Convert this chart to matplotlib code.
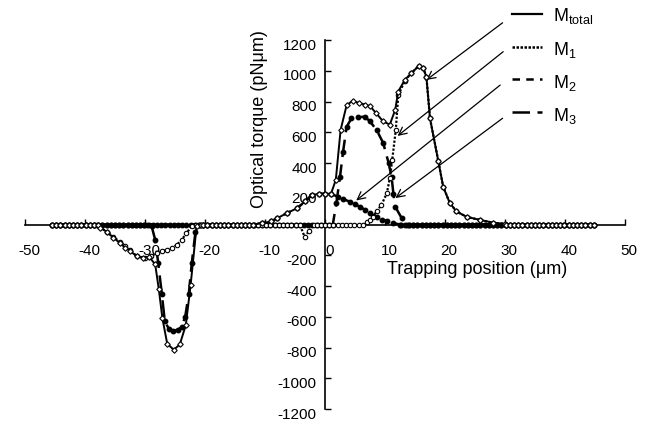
import numpy as np
import matplotlib
matplotlib.use("Agg")
import matplotlib.pyplot as plt
from matplotlib import transforms

plt.rcParams['font.family'] = ['Liberation Sans', 'DejaVu Sans']
plt.rcParams['mathtext.fontset'] = 'custom'
plt.rcParams['mathtext.rm'] = 'Liberation Sans'
plt.rcParams['mathtext.it'] = 'Liberation Sans:italic'
plt.rcParams['axes.unicode_minus'] = False

# ---------------- data ----------------
# sample positions of the flat (zero) parts of every curve
baseline_x = np.round(np.arange(-45.5, 45.0, 0.7), 2)

# M_total : solid, open diamonds
total_left_x = [-37.5, -36.4, -35.3, -34.2, -33.3, -32.5, -31.4, -30.4, -29.3, -28.3, -27.7, -27.1, -26.3, -25.2, -24.2, -23.2, -22.4, -21.4, -20.6]
total_left_y = [-20, -47, -85, -120, -150, -172, -205, -215, -210, -260, -420, -610, -775, -815, -780, -655, -395, -10, 0]
total_right_x = [-12.0, -10.5, -9.0, -8.0, -6.4, -4.7, -3.3, -2.2, -1.0, 0.0, 1.0, 1.8, 2.6, 3.6, 4.6, 5.7, 6.7, 7.5, 8.5, 9.7, 10.8, 11.7, 12.2, 13.3, 14.4, 15.6, 16.4, 16.9, 17.5, 18.9, 19.7, 20.8, 21.9, 23.6, 25.8, 28.0, 30.0]
total_right_y = [0, 8, 20, 40, 73, 105, 150, 190, 200, 200, 200, 290, 615, 775, 805, 790, 780, 770, 725, 670, 650, 745, 865, 940, 985, 1030, 1015, 960, 690, 410, 245, 140, 85, 50, 30, 12, 3]

# M1 : dotted, open circles
m1_left_x = [-38.2, -37.5, -36.4, -35.3, -34.2, -33.3, -32.5, -31.4, -30.0, -29.0, -28.0, -27.2, -26.4, -25.5, -24.7, -23.9, -23.1, -22.2, -21.5]
m1_left_y = [0, -15, -47, -80, -112, -140, -166, -205, -218, -205, -186, -175, -166, -150, -133, -100, -57, -10, 0]
m1_mid_x = [-4.2, -3.4, -2.6, -1.9]
m1_mid_y = [0, -80, -40, 0]
m1_right_x = [6.3, 7.0, 7.5, 8.0, 8.7, 9.4, 10.3, 10.8, 11.2, 11.8, 12.2, 13.3, 14.4, 15.6, 16.4, 16.9, 17.5, 18.9, 19.7, 20.8, 21.9, 23.6, 25.8, 28.0, 30.0]
m1_right_y = [0, 15, 29, 51, 90, 127, 203, 300, 420, 615, 840, 935, 985, 1030, 1015, 960, 690, 410, 245, 140, 85, 50, 30, 12, 3]

# M2 : short dashes, filled dots
m2_x = [-12.0, -10.5, -9.0, -8.0, -6.4, -4.7, -3.3, -2.2, -1.0, 0.0, 1.0, 2.2, 3.0, 4.2, 5.0, 5.8, 6.7, 7.5, 8.6, 9.5, 10.3, 11.3, 12.5]
m2_y = [0, 8, 20, 40, 73, 105, 150, 192, 200, 200, 198, 181, 165, 148, 132, 116, 95, 73, 50, 32, 22, 10, 0]

# M3 : long dashes, filled dots
m3_left_x = [-29.6, -28.9, -28.3, -27.8, -27.2, -26.7, -26.0, -25.3, -24.5, -23.9, -23.3, -22.7, -22.2, -21.6, -20.9]
m3_left_y = [0, -10, -100, -250, -450, -630, -680, -690, -685, -665, -600, -450, -250, -50, 0]
m3_right_x = [1.3, 1.9, 2.5, 3.0, 3.6, 4.4, 5.5, 6.7, 7.5, 8.6, 9.7, 10.6, 11.1, 11.4, 11.7, 12.8, 13.7]
m3_right_y = [0, 140, 310, 470, 635, 690, 700, 700, 670, 615, 530, 400, 310, 200, 116, 40, 0]

x_ticks = [-50, -40, -30, -20, -10, 0, 10, 20, 30, 40, 50]
y_ticks = [-1200, -1000, -800, -600, -400, -200, 200, 400, 600, 800, 1000, 1200]
legend_labels = [r'M$_{\rm total}$', r'M$_{\rm 1}$', r'M$_{\rm 2}$', r'M$_{\rm 3}$']


def build(features):
    xs, ys = [], []
    for fx, fy in features:
        xs += list(fx)
        ys += list(fy)
    for b in baseline_x:
        if not any(min(fx) <= b <= max(fx) for fx, _ in features):
            xs.append(b)
            ys.append(0.0)
    order = np.argsort(xs)
    return np.array(xs)[order], np.array(ys)[order]


tot = build([(total_left_x, total_left_y), (total_right_x, total_right_y)])
m1 = build([(m1_left_x, m1_left_y), (m1_mid_x, m1_mid_y), (m1_right_x, m1_right_y)])
m2 = build([(m2_x, m2_y)])
m3 = build([(m3_left_x, m3_left_y), (m3_right_x, m3_right_y)])

# ---------------- figure ----------------
fig = plt.figure(figsize=(6.54, 4.21), dpi=100)
ax = fig.add_axes([25 / 654, 12 / 421, 600 / 654, 369 / 421])
ax.set_xlim(-50, 50)
ax.set_ylim(-1200, 1200)

ax.plot(m3[0], m3[1], color='black', lw=1.8, dashes=(7, 3), marker='o', ms=3.2,
        mfc='black', mec='black', zorder=3)
ax.plot(m2[0], m2[1], color='black', lw=1.8, dashes=(3, 2.5), marker='o', ms=3.2,
        mfc='black', mec='black', zorder=3)
ax.plot(m1[0], m1[1], color='black', lw=1.6, ls=(0, (1, 0.8)), marker='o', ms=3.2,
        mfc='white', mec='black', mew=0.8, zorder=4)
ax.plot(tot[0], tot[1], color='black', lw=1.4, ls='-', marker='D', ms=2.8,
        mfc='white', mec='black', mew=0.8, zorder=5)

for s in ['top', 'right']:
    ax.spines[s].set_visible(False)
ax.spines['left'].set_position(('data', 0))
ax.spines['bottom'].set_position(('data', 0))
ax.spines['left'].set_linewidth(1.2)
ax.spines['bottom'].set_linewidth(1.2)

ax.set_xticks(x_ticks)
ax.set_xticklabels([str(v) for v in x_ticks])
ax.set_yticks(y_ticks)
ax.set_yticklabels([str(v) for v in y_ticks])
ax.tick_params(axis='x', direction='in', length=4, width=1.0, pad=14, labelsize=11)
ax.tick_params(axis='y', direction='in', length=4, width=1.0, pad=6, labelsize=11)

off_y = transforms.ScaledTranslation(0, -3 / 72, fig.dpi_scale_trans)
for lab in ax.get_yticklabels():
    lab.set_transform(lab.get_transform() + off_y)
off_x = transforms.ScaledTranslation(3 / 72, 0, fig.dpi_scale_trans)
for lab in ax.get_xticklabels():
    lab.set_transform(lab.get_transform() + off_x)

fig.text(259 / 654, 1 - 208 / 421, 'Optical torque (pN\u03bcm)', rotation=90,
         ha='center', va='bottom', fontsize=13)
fig.text(477 / 654, 1 - 269 / 421, 'Trapping position (\u03bcm)',
         ha='center', va='center', fontsize=13)

# legend drawn by hand, with arrows to the curves
leg_line_y = [1369, 1155, 946, 732]
leg_text_y = [1324, 1102, 888, 673]
leg_styles = [dict(ls='-', lw=1.6), dict(ls=(0, (1, 0.6)), lw=1.8),
              dict(dashes=(3, 2.5), lw=1.8), dict(dashes=(7, 3), lw=1.8)]
for yl, yt, lab, st in zip(leg_line_y, leg_text_y, legend_labels, leg_styles):
    ax.plot([31.2, 36.2], [yl, yl], color='black', clip_on=False, **st)
    ax.text(38.0, yt, lab, fontsize=13, ha='left', va='baseline', clip_on=False)

arrow_start = [(29.6, 1312), (29.7, 1124), (29.2, 907), (29.6, 691)]
arrow_tip = [(16.9, 940), (12.1, 576), (5.2, 156), (11.75, 172)]
for s, t in zip(arrow_start, arrow_tip):
    ax.annotate('', xy=t, xytext=s, annotation_clip=False,
                arrowprops=dict(arrowstyle='->', color='black', lw=0.9,
                                mutation_scale=14, shrinkA=0, shrinkB=0))

fig.savefig('out.png', dpi=100)
